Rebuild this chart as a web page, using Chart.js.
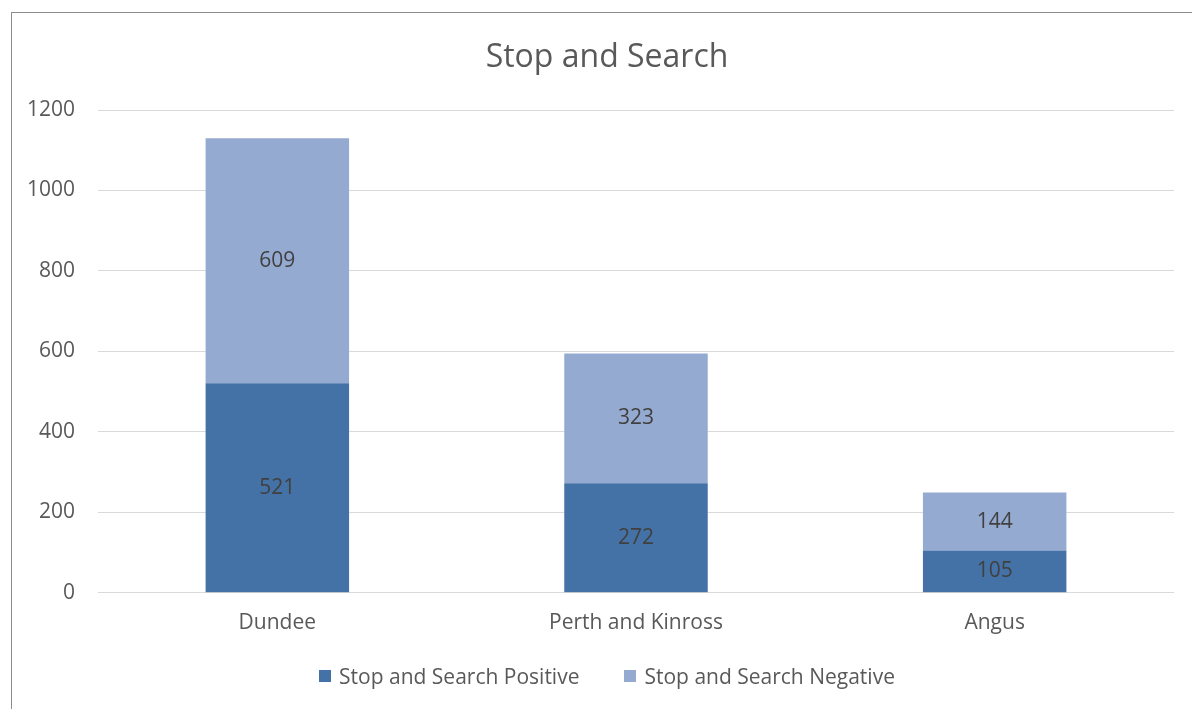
<!DOCTYPE html>
<html>
<head>
<meta charset="utf-8">
<title>Stop and Search</title>
<script src="https://cdn.jsdelivr.net/npm/chart.js@4"></script>
<style>
    html, body { margin: 0; padding: 0; background: #fff; }
    #wrap { position: relative; width: 1192px; height: 709px; overflow: hidden; }
    #frame {
        position: absolute; left: 11px; top: 12px; width: 1300px; height: 800px;
        border-left: 1px solid #8c8c8c; border-top: 1px solid #8c8c8c;
        pointer-events: none;
    }
    canvas { position: absolute; left: 0; top: 0; }
    #title {
        position: absolute; left: 0; width: 1214px; top: 36px;
        text-align: center; color: #595959;
        font: 32px "Open Sans", sans-serif; line-height: 38px;
    }
    #legend {
        position: absolute; left: 0; width: 1214px; top: 663px;
        display: flex; justify-content: center; gap: 45px;
        font: 21px "Open Sans", sans-serif; line-height: 26px; color: #595959;
    }
    #legend .item { display: flex; align-items: center; }
    #legend .swatch { width: 12px; height: 12px; margin-right: 8px; }
</style>
</head>
<body>
<div id="wrap">
    <canvas id="searchChart" width="1192" height="709"></canvas>
    <div id="title">Stop and Search</div>
    <div id="legend"></div>
    <div id="frame"></div>
</div>
<script>
const areas = ['Dundee', 'Perth and Kinross', 'Angus'];
const positive = [521, 272, 105];
const negative = [609, 323, 144];
const seriesNames = ['Stop and Search Positive', 'Stop and Search Negative'];
const seriesColors = ['#4472A6', '#95AAD1'];

const FONT = '"Open Sans", sans-serif';
const TEXT = '#595959';

// Writes each segment's value in the middle of its bar piece
const barValues = {
    id: 'barValues',
    afterDatasetsDraw(chart) {
        const ctx = chart.ctx;
        ctx.save();
        ctx.font = '21px ' + FONT;
        ctx.fillStyle = '#404040';
        ctx.textAlign = 'center';
        ctx.textBaseline = 'middle';
        chart.data.datasets.forEach((ds, i) => {
            chart.getDatasetMeta(i).data.forEach((bar, j) => {
                const mid = (bar.y + bar.base) / 2;
                ctx.fillText(ds.data[j], bar.x, mid);
            });
        });
        ctx.restore();
    }
};

const ctx = document.getElementById('searchChart').getContext('2d');
const chart = new Chart(ctx, {
    type: 'bar',
    data: {
        labels: areas,
        datasets: [{
            label: seriesNames[0],
            data: positive,
            backgroundColor: seriesColors[0],
            categoryPercentage: 1,
            barPercentage: 0.4
        }, {
            label: seriesNames[1],
            data: negative,
            backgroundColor: seriesColors[1],
            categoryPercentage: 1,
            barPercentage: 0.4
        }]
    },
    options: {
        responsive: false,
        animation: false,
        layout: { padding: { left: 0, right: 18, top: 110, bottom: 63 } },
        plugins: {
            legend: { display: false },
            tooltip: { enabled: false }
        },
        scales: {
            x: {
                stacked: true,
                grid: { display: false },
                border: { display: false },
                ticks: { color: TEXT, font: { family: FONT, size: 21 }, padding: 10 }
            },
            y: {
                stacked: true,
                min: 0,
                max: 1200,
                afterFit(scale) { scale.width = 98; },
                grid: { color: '#d9d9d9', drawTicks: false },
                border: { display: false },
                ticks: {
                    stepSize: 200,
                    color: TEXT,
                    font: { family: FONT, size: 21 },
                    padding: 23,
                    callback: (v) => v
                }
            }
        }
    },
    plugins: [barValues]
});

// Legend below the chart, built from the datasets
const legendEl = document.getElementById('legend');
chart.data.datasets.forEach((ds) => {
    const item = document.createElement('div');
    item.className = 'item';
    const sw = document.createElement('span');
    sw.className = 'swatch';
    sw.style.background = ds.backgroundColor;
    const label = document.createElement('span');
    label.textContent = ds.label;
    item.appendChild(sw);
    item.appendChild(label);
    legendEl.appendChild(item);
});
</script>
</body>
</html>
